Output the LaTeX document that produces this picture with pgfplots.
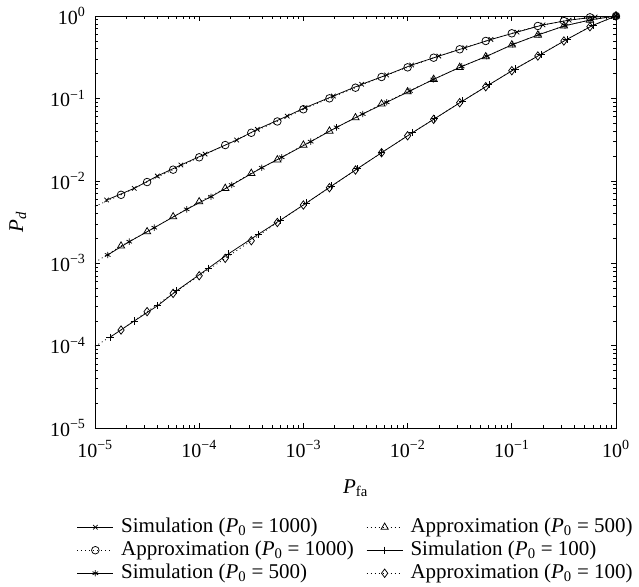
\documentclass[border=0pt]{standalone}
\usepackage{fontspec}
\setmainfont{Liberation Serif}
\usepackage{pgfplots}
\pgfplotsset{compat=1.18}
\newcommand\fs{\fontsize{21}{25}\selectfont}
\newcommand\ft{\fontsize{20}{24}\selectfont}
\newcommand\Pz{\textit{P}\textsubscript{0}}

\begin{document}
\begin{tikzpicture}
\begin{axis}[
    xmode=log, ymode=log,
    scale only axis, width=521pt, height=412pt,
    xmin=1e-5, xmax=1, ymin=1e-5, ymax=1,
    xtick={1e-5,1e-4,1e-3,1e-2,1e-1,1},
    xticklabels={10\textsuperscript{−5},10\textsuperscript{−4},10\textsuperscript{−3},10\textsuperscript{−2},10\textsuperscript{−1},10\textsuperscript{0}},
    ytick={1e-5,1e-4,1e-3,1e-2,1e-1,1},
    yticklabels={10\textsuperscript{−5},10\textsuperscript{−4},10\textsuperscript{−3},10\textsuperscript{−2},10\textsuperscript{−1},10\textsuperscript{0}},
    tick align=inside,
    major tick length=5pt, minor tick length=3pt,
    axis line style={line width=0.8pt},
    every tick/.style={black, line width=0.6pt},
    tick label style={font=\ft},
    xticklabel shift=9pt, yticklabel shift=6pt,
    xlabel={\textit{P}\textsubscript{fa}},
    ylabel={\textit{P}\textsubscript{\textit{d}}},
    label style={font=\fs},
    xlabel style={at={(axis description cs:0.5,-0.1456)}, anchor=center},
    ylabel style={at={(axis description cs:-0.148,0.5)}, anchor=center, rotate=0},
    legend columns=2,
    legend style={at={(axis description cs:-0.035,-0.2124)}, anchor=north west,
        draw=none, fill=none, inner sep=0pt, font=\fs, row sep=0pt,
        nodes={inner sep=1.5pt, text height=15pt, text depth=5pt},
        /tikz/every odd column/.append style={column sep=6pt},
        /tikz/every even column/.append style={column sep=11pt}},
    legend cell align=left,
    legend image code/.code={\draw[mark repeat=2,mark phase=2,#1] plot coordinates {(0pt,0pt) (18pt,0pt) (36pt,0pt)};},
    every axis plot/.append style={black, line width=0.75pt},
]
% dotted start of the approximations (no marks)
\addplot[dash pattern=on 1pt off 3pt, forget plot] coordinates {(1e-5,4.90e-3) (1.778e-5,6.76e-3)};
\addplot[dash pattern=on 1pt off 3pt, forget plot] coordinates {(1e-5,1.023e-3) (1.778e-5,1.618e-3)};
\addplot[dash pattern=on 1pt off 3pt, forget plot] coordinates {(1e-5,9.77e-5) (1.778e-5,1.545e-4)};

% Simulation P0=1000
\addplot[mark=x, mark size=3.2pt] coordinates {
  (1.294e-5,5.85e-3) (2.382e-5,8.11e-3) (3.963e-5,1.143e-2) (6.68e-5,1.556e-2)
  (1.138e-4,2.113e-2) (2.291e-4,3.126e-2) (3.614e-4,4.217e-2) (6.998e-4,6.11e-2)
  (1.035e-3,7.71e-2) (1.936e-3,0.1069) (3.622e-3,0.1483) (6.295e-3,0.1923)
  (1.094e-2,0.2541) (1.995e-2,0.326) (3.548e-2,0.412) (6.31e-2,0.519)
  (0.1122,0.638) (0.1995,0.780) (0.3548,0.891) (0.631,0.973) (1,1)
};
\addlegendentry{Simulation (\Pz\ = 1000)}

% Approximation P0=500
\addplot[dash pattern=on 1pt off 3pt, mark=triangle, mark size=4.2pt, mark options={solid}] coordinates {
  (1.778e-5,1.618e-3) (3.162e-5,2.410e-3) (5.623e-5,3.664e-3) (1e-4,5.57e-3)
  (1.778e-4,8.11e-3) (3.162e-4,1.233e-2) (5.623e-4,1.799e-2) (1e-3,2.716e-2)
  (1.778e-3,4.018e-2) (3.162e-3,5.83e-2) (5.623e-3,8.55e-2) (1e-2,0.1205)
  (1.778e-2,0.1706) (3.162e-2,0.2382) (5.623e-2,0.3206) (0.1,0.4467)
  (0.1778,0.5875) (0.3162,0.7568) (0.5623,0.8933) (1,1)
};
\addlegendentry{Approximation (\Pz\ = 500)}

% Approximation P0=1000
\addplot[dash pattern=on 1pt off 3pt, mark=o, mark size=3.8pt, mark options={solid}] coordinates {
  (1.778e-5,6.76e-3) (3.162e-5,9.66e-3) (5.623e-5,1.365e-2) (1e-4,1.928e-2)
  (1.778e-4,2.716e-2) (3.162e-4,3.828e-2) (5.623e-4,5.25e-2) (1e-3,7.38e-2)
  (1.778e-3,0.1002) (3.162e-3,0.1349) (5.623e-3,0.1820) (1e-2,0.2382)
  (1.778e-2,0.3119) (3.162e-2,0.3945) (5.623e-2,0.4977) (0.1,0.6166)
  (0.1778,0.7568) (0.3162,0.8690) (0.5623,0.9638) (1,1)
};
\addlegendentry{Approximation (\Pz\ = 1000)}

% Simulation P0=100
\addplot[mark=+, mark size=3.6pt] coordinates {
  (1.393e-5,1.262e-4) (2.382e-5,1.991e-4) (3.990e-5,3.048e-4) (6.081e-5,4.634e-4)
  (1.222e-4,8.67e-4) (1.901e-4,1.294e-3) (3.690e-4,2.244e-3) (6.026e-4,3.342e-3)
  (1.072e-3,5.395e-3) (1.862e-3,8.65e-3) (3.311e-3,1.406e-2) (5.623e-3,2.193e-2)
  (1.122e-2,3.864e-2) (1.820e-2,5.675e-2) (3.388e-2,9.33e-2) (6.026e-2,0.1462)
  (0.1072,0.2275) (0.1905,0.3428) (0.3388,0.5212) (0.6026,0.7727) (1,1)
};
\addlegendentry{Simulation (\Pz\ = 100)}

% Simulation P0=500
\addplot[mark=asterisk, mark size=3.2pt] coordinates {
  (1.324e-5,1.259e-3) (2.133e-5,1.824e-3) (3.707e-5,2.698e-3) (7.586e-5,4.508e-3)
  (1.297e-4,6.412e-3) (2.051e-4,8.89e-3) (3.981e-4,1.442e-2) (6.194e-4,1.928e-2)
  (1.175e-3,2.985e-2) (2.084e-3,4.457e-2) (3.707e-3,6.471e-2) (6.295e-3,8.97e-2)
  (1.054e-2,0.1230) (1.766e-2,0.1698) (3.311e-2,0.2443) (5.754e-2,0.3251)
  (0.1023,0.4519) (0.1820,0.5943) (0.3236,0.7621) (0.5754,0.8995) (1,1)
};
\addlegendentry{Simulation (\Pz\ = 500)}

% Approximation P0=100
\addplot[dash pattern=on 1pt off 3pt, mark=diamond, mark size=4.2pt, mark options={solid}] coordinates {
  (1.778e-5,1.545e-4) (3.162e-5,2.582e-4) (5.623e-5,4.305e-4) (1e-4,7.047e-4)
  (1.778e-4,1.146e-3) (3.162e-4,1.875e-3) (5.623e-4,3.119e-3) (1e-3,5.08e-3)
  (1.778e-3,8.24e-3) (3.162e-3,1.352e-2) (5.623e-3,2.193e-2) (1e-2,3.524e-2)
  (1.778e-2,5.57e-2) (3.162e-2,8.87e-2) (5.623e-2,0.1387) (0.1,0.2168)
  (0.1778,0.3273) (0.3162,0.4977) (0.5623,0.7413) (1,1)
};
\addlegendentry{Approximation (\Pz\ = 100)}
\end{axis}
\pgfresetboundingbox
\useasboundingbox (-95pt,-158pt) rectangle (544pt,428pt);
\end{tikzpicture}
\end{document}
